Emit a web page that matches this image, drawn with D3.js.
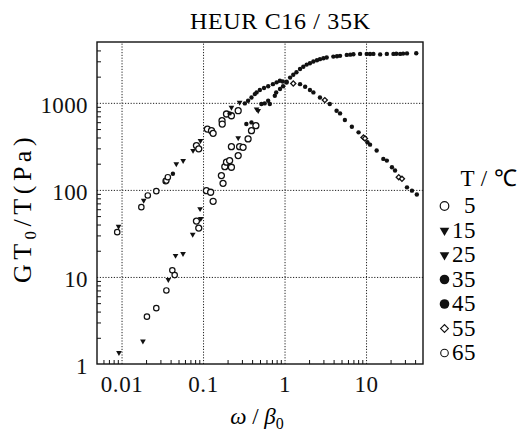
<!DOCTYPE html>
<html>
<head>
<meta charset="utf-8">
<script src="https://cdn.jsdelivr.net/npm/d3@7"></script>
<style>
body { margin: 0; background: #fff; }
</style>
</head>
<body>
<svg></svg>
<script>
var width = 520;
var height = 432;
var plot = {left: 97, right: 423, top: 42, bottom: 364};
var font = "'Liberation Serif'";

// reduced frequency w/b0 and G*T0/T (Pa), G' and G'' points mixed per temperature
var t5 = [[0.083,43.8],[0.0886,36.4],[0.11,98],[0.124,94],[0.133,74],[0.168,146],[0.176,119],
  [0.185,185],[0.194,208],[0.212,217],[0.223,182],[0.223,314],[0.27,248],[0.281,314],[0.31,308],
  [0.357,385],[0.393,479],[0.445,547],[0.083,323],[0.0886,296],[0.113,500],[0.127,479],[0.133,447],
  [0.171,624],[0.172,571],[0.194,745],[0.223,711],[0.27,812]];
var t15 = [[0.27,395],[0.454,849],[0.475,812],[0.223,885],[0.281,1011]];
var t25 = [[0.0093,1.35],[0.0183,1.83],[0.0375,9.3],[0.046,17.6],[0.0568,18.5],[0.0747,30.8],
  [0.092,60.7],[0.0938,46.7],[0.0092,38],[0.0187,75.6],[0.047,199],[0.057,217],[0.0754,283],[0.093,368]];
var t35 = [[0.0427,153],[0.212,756],[0.326,985],[0.357,1057],[0.393,1153],[0.432,1260],[0.454,1318],
  [0.498,1403],[0.56,1480],[0.63,1550],[0.72,1640],[0.8,1720],[0.877,1791],[0.95,1760],[1.06,1713],
  [1.55,1640],[1.79,1528],[2.05,1403],[2.26,1318],[2.72,1153],[3.59,969],[4.35,812],[4.8,756],
  [5.5,635],[6.7,532],[8.1,458],[10.4,352],[11.2,331],[13.5,283],[16.3,227],[18,217],[20.8,182],
  [22.7,167],[31.8,107],[36.6,98],[42,88.5]];
var t45 = [[0.34,571],[0.393,596],[0.52,969],[0.57,985],[0.63,1057],[0.66,969],[0.76,1206],[0.79,1318],
  [0.88,1443],[0.96,1550],[1.06,1750],[1.17,1950],[1.28,2100],[1.4,2250],[1.55,2450],[1.7,2600],
  [1.87,2750],[2.05,2850],[2.26,2980],[2.5,3080],[2.72,3175],[3.0,3250],[3.29,3313],[3.97,3400],
  [4.4,3430],[4.8,3465],[5.8,3555],[6.4,3580],[7.0,3620],[8.45,3650],[10.2,3650],[11.2,3640],
  [12.3,3650],[14.9,3600],[18,3650],[21.7,3650],[23.5,3660],[26.2,3650],[28.5,3680],[31.8,3700],[41.3,3720]];
var t55 = [[1.28,1668],[3.12,1075],[9.3,401],[9.7,390],[25.2,140],[27.6,134]];
var t65 = [[0.00885,32.7],[0.0175,63.4],[0.021,86.3],[0.0267,96.7],[0.0348,126],[0.0355,128],[0.037,140],
  [0.0205,3.5],[0.0267,4.38],[0.0355,7.0],[0.042,11.9],[0.0449,10.5]];

var temps = ["5", "15", "25", "35", "45", "55", "65"];
var xTicks = [0.01, 0.1, 1, 10];
var xTickLabels = ["0.01", "0.1", "1", "10"];
var yTicks = [1, 10, 100, 1000];
var yTickLabels = ["1", "10", "100", "1000"];

var series = [
  {name: temps[0], data: t5,  kind: "circle"},
  {name: temps[1], data: t15, kind: "tri"},
  {name: temps[2], data: t25, kind: "tri"},
  {name: temps[3], data: t35, kind: "dot"},
  {name: temps[4], data: t45, kind: "dot"},
  {name: temps[5], data: t55, kind: "diamond"},
  {name: temps[6], data: t65, kind: "small"}
];

var svg = d3.select("svg")
    .attr("width", width)
    .attr("height", height)
    .attr("font-family", font);

var xScale = d3.scaleLog()
    .domain([0.005, 50])
    .range([plot.left, plot.right]);

var yScale = d3.scaleLog()
    .domain([1, 5000])
    .range([plot.bottom, plot.top]);

var ph = plot.bottom - plot.top;
var pw = plot.right - plot.left;

// dotted grid at the decades
svg.append("g")
    .attr("transform", "translate(0," + plot.bottom + ")")
    .call(d3.axisBottom(xScale).tickValues(xTicks).tickSize(-ph).tickFormat(""))
    .call(g => g.select(".domain").remove())
    .selectAll("line")
      .attr("stroke", "#222")
      .attr("stroke-dasharray", "1.2,1.6");

svg.append("g")
    .attr("transform", "translate(" + plot.left + ",0)")
    .call(d3.axisLeft(yScale).tickValues([10, 100, 1000]).tickSize(-pw).tickFormat(""))
    .call(g => g.select(".domain").remove())
    .selectAll("line")
      .attr("stroke", "#222")
      .attr("stroke-dasharray", "1.2,1.6");

// minor ticks, inward
function minors(domain) {
  var out = [];
  for (var e = -3; e <= 4; e++) {
    for (var k = 2; k <= 9; k++) {
      var v = k * Math.pow(10, e);
      if (v > domain[0] && v < domain[1]) out.push(v);
    }
  }
  return out;
}

svg.append("g")
    .attr("transform", "translate(0," + plot.bottom + ")")
    .call(d3.axisBottom(xScale).tickValues(minors(xScale.domain())).tickSize(-4).tickFormat(""))
    .call(g => g.select(".domain").remove())
    .selectAll("line").attr("stroke", "#111");

svg.append("g")
    .attr("transform", "translate(" + plot.left + ",0)")
    .call(d3.axisLeft(yScale).tickValues(minors(yScale.domain())).tickSize(-4).tickFormat(""))
    .call(g => g.select(".domain").remove())
    .selectAll("line").attr("stroke", "#111");

// frame
svg.append("rect")
    .attr("x", plot.left)
    .attr("y", plot.top)
    .attr("width", pw)
    .attr("height", ph)
    .attr("fill", "none")
    .attr("stroke", "#111")
    .attr("stroke-width", 1.4);

// tick labels
var xAxis = svg.append("g")
    .attr("transform", "translate(0," + plot.bottom + ")")
    .call(d3.axisBottom(xScale).tickValues(xTicks).tickSize(0).tickPadding(12)
            .tickFormat((d, i) => xTickLabels[i]));
xAxis.attr("font-family", font).attr("font-size", 23);
xAxis.select(".domain").remove();
xAxis.selectAll("text")
    .attr("fill", "#111")
    .attr("font-family", font)
    .attr("letter-spacing", 0.6);

var yAxis = svg.append("g")
    .attr("transform", "translate(" + plot.left + ",0)")
    .call(d3.axisLeft(yScale).tickValues(yTicks).tickSize(0).tickPadding(9)
            .tickFormat((d, i) => yTickLabels[i]));
yAxis.attr("font-family", font).attr("font-size", 23);
yAxis.select(".domain").remove();
yAxis.selectAll("text")
    .attr("dy", "0.42em")
    .attr("font-family", font)
    .attr("letter-spacing", 0.4)
    .attr("fill", "#111");

// markers
function drawMark(g, kind, big) {
  if (kind == "circle") {
    g.append("circle").attr("r", big ? 4.3 : 3).attr("fill", "#fff")
      .attr("stroke", "#111").attr("stroke-width", big ? 1.2 : 1.3);
  } else if (kind == "small") {
    g.append("circle").attr("r", big ? 3.8 : 2.7).attr("fill", "#fff")
      .attr("stroke", "#111").attr("stroke-width", big ? 1.1 : 1.2);
  } else if (kind == "dot") {
    g.append("circle").attr("r", big ? 4.8 : 2.2).attr("fill", "#111");
  } else if (kind == "tri") {
    g.append("path")
      .attr("d", d3.symbol(d3.symbolTriangle, big ? 40 : 14)())
      .attr("transform", "rotate(180)")
      .attr("fill", "#111");
  } else if (kind == "diamond") {
    g.append("path")
      .attr("d", d3.symbol(d3.symbolSquare, big ? 30 : 13)())
      .attr("transform", "rotate(45)")
      .attr("fill", "#fff")
      .attr("stroke", "#111")
      .attr("stroke-width", big ? 1.1 : 1.3);
  }
}

series.forEach(function(s) {
  svg.append("g").selectAll("g")
      .data(s.data)
    .enter()
      .append("g")
      .attr("transform", d => "translate(" + xScale(d[0]) + "," + yScale(d[1]) + ")")
      .each(function() { drawMark(d3.select(this), s.kind, false); });
});

// title
svg.append("text")
    .attr("x", 280)
    .attr("y", 29)
    .attr("font-family", font)
    .attr("font-size", 24)
    .attr("text-anchor", "middle")
    .attr("textLength", 180)
    .attr("lengthAdjust", "spacing")
    .text("HEUR C16 / 35K");

// axis titles
var xt = svg.append("text")
    .attr("x", 257)
    .attr("y", 424)
    .attr("font-family", font)
    .attr("font-size", 23)
    .attr("text-anchor", "middle");
xt.append("tspan").attr("font-style", "italic").text("ω");
xt.append("tspan").text(" / ");
xt.append("tspan").attr("font-style", "italic").text("β");
xt.append("tspan").attr("dy", 5).attr("font-size", 16).text("0");

var yt = svg.append("text")
    .attr("transform", "translate(31,208) rotate(-90)")
    .attr("font-family", font)
    .attr("font-size", 26)
    .attr("text-anchor", "middle")
    .attr("letter-spacing", 4.5);
yt.append("tspan").text("GT");
yt.append("tspan").attr("dy", 5).attr("font-size", 17).text("0");
yt.append("tspan").attr("dy", -5).text("/T(Pa)");

// legend
svg.append("text")
    .attr("x", 489)
    .attr("y", 186)
    .attr("font-family", font)
    .attr("font-size", 23)
    .attr("letter-spacing", 0.5)
    .attr("text-anchor", "middle")
    .text("T / ℃");

var legend = svg.append("g").selectAll("g")
    .data(series)
  .enter()
    .append("g")
    .attr("transform", (d, i) => "translate(0," + (213 + i * 24.5) + ")");

legend.append("g")
    .attr("transform", "translate(444.5,-7)")
    .each(function(d) { drawMark(d3.select(this), d.kind, true); });

legend.append("text")
    .attr("x", 476)
    .attr("font-family", font)
    .attr("font-size", 23)
    .attr("letter-spacing", 0.5)
    .attr("text-anchor", "end")
    .text(d => d.name);
</script>
</body>
</html>
